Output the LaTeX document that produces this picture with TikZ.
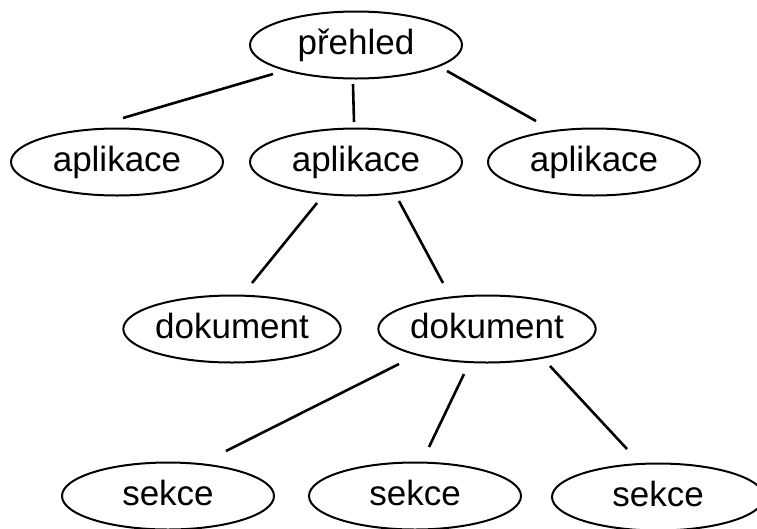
\documentclass[tikz,border=0pt]{standalone}
\usepackage{fontspec}
\setmainfont{Liberation Sans}
\usetikzlibrary{shapes.geometric}
\begin{document}
\begin{tikzpicture}[x=1pt,y=-1pt,
  bubble/.style={draw,ellipse,line width=2pt,minimum width=212pt,minimum height=67pt,inner sep=0pt,
    font=\fontsize{35}{40}\selectfont,text height=25pt,text depth=7pt},
  link/.style={line width=2.6pt}]
\useasboundingbox (0,0) rectangle (757,528);
\node[bubble] (p) at (356,45) {přehled};
\node[bubble] (a1) at (117,162) {aplikace};
\node[bubble] (a2) at (356,162) {aplikace};
\node[bubble] (a3) at (594,162) {aplikace};
\node[bubble] (d1) at (232,329) {dokument};
\node[bubble] (d2) at (487,329) {dokument};
\node[bubble] (s1) at (168,496) {sekce};
\node[bubble] (s2) at (415,496) {sekce};
\node[bubble] (s3) at (658,497) {sekce};
% connector ends
\coordinate (pa1) at (273,74);  \coordinate (a1p) at (123,118);
\coordinate (pa2) at (353,84);  \coordinate (a2p) at (354,122);
\coordinate (pa3) at (447,71);  \coordinate (a3p) at (536,121);
\coordinate (a2d1) at (317,203); \coordinate (d1a2) at (252,283);
\coordinate (a2d2) at (399,201); \coordinate (d2a2) at (443,283);
\coordinate (d2s1) at (399,364); \coordinate (s1d2) at (226,451);
\coordinate (d2s2) at (464,374); \coordinate (s2d2) at (429,447);
\coordinate (d2s3) at (550,366); \coordinate (s3d2) at (627,449);
\draw[link] (pa1) -- (a1p);
\draw[link] (pa2) -- (a2p);
\draw[link] (pa3) -- (a3p);
\draw[link] (a2d1) -- (d1a2);
\draw[link] (a2d2) -- (d2a2);
\draw[link] (d2s1) -- (s1d2);
\draw[link] (d2s2) -- (s2d2);
\draw[link] (d2s3) -- (s3d2);
\end{tikzpicture}
\end{document}
